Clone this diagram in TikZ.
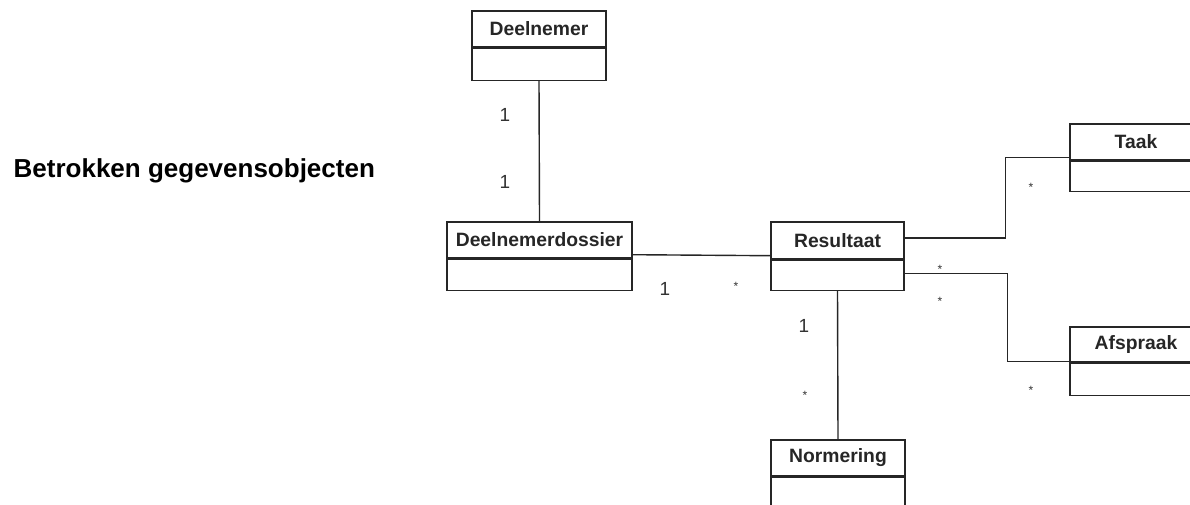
\documentclass[tikz,border=0pt]{standalone}
\usepackage{fontspec}
\setmainfont{Liberation Sans}
\begin{document}
\begin{tikzpicture}[x=1pt,y=-1pt,
  line width=1.4pt, draw=black!85,
  classhead/.style={draw=black!85, line width=1.4pt, rectangle, inner sep=0pt,
    font=\fontsize{19.3}{21}\selectfont\bfseries, text=black!85},
  classbody/.style={draw=black!85, line width=1.4pt, rectangle, inner sep=0pt, anchor=north},
  conn/.style={draw=black!85, line width=1.4pt},
  mult/.style={font=\fontsize{19}{21}\selectfont, text=black!80, inner sep=0pt},
  star/.style={font=\fontsize{12}{14}\selectfont, text=black!80, inner sep=0pt}
]
\useasboundingbox (0,0) rectangle (1190,505);
\clip (0,0) rectangle (1190,505);
\fill[white] (0,0) rectangle (1190,505);

\node[anchor=base west, font=\fontsize{26}{30}\selectfont\bfseries, inner sep=0pt] (title) at (13,178) {Betrokken gegevensobjecten};

% Deelnemer
\node[classhead, minimum width=134, minimum height=36] (deelH) at (539,29) {Deelnemer};
\node[classbody, minimum width=134, minimum height=32] (deelB) at (deelH.south) {};
% Deelnemerdossier
\node[classhead, minimum width=185, minimum height=36] (dosH) at (539.5,240) {Deelnemerdossier};
\node[classbody, minimum width=185, minimum height=31] (dosB) at (dosH.south) {};
% Resultaat
\node[classhead, minimum width=133, minimum height=37] (resH) at (837.5,240.5) {Resultaat};
\node[classbody, minimum width=133, minimum height=30] (resB) at (resH.south) {};
% Taak
\node[classhead, minimum width=132, minimum height=36] (taakH) at (1136,142) {Taak};
\node[classbody, minimum width=132, minimum height=30] (taakB) at (taakH.south) {};
% Afspraak
\node[classhead, minimum width=132, minimum height=35] (afsH) at (1136,344.5) {Afspraak};
\node[classbody, minimum width=132, minimum height=32] (afsB) at (afsH.south) {};
% Normering
\node[classhead, minimum width=134, minimum height=36] (normH) at (838,458) {Normering};
\node[classbody, minimum width=134, minimum height=40] (normB) at (normH.south) {};

% connectors
\draw[conn] (deelB.south) -- (dosH.north);
\draw[conn] ([yshift=4pt]dosH.south east) -- ([yshift=4pt]resH.south west);
\draw[conn] ([yshift=2.5pt]resH.east) -- ++(101,0) |- ([yshift=3pt]taakH.south west);
\draw[conn] ([yshift=2pt]resB.east) -- ++(103,0) |- ([yshift=1pt]afsH.south west);
\draw[conn] (resB.south) -- (normH.north);

% multiplicities
\node[mult] (m1) at (505,115) {1};
\node[mult] (m2) at (505,182) {1};
\node[mult] (m3) at (665,289) {1};
\node[star] (s1) at (736,286.5) {*};
\node[star] (s2) at (940,269.5) {*};
\node[star] (s3) at (940,301.5) {*};
\node[mult] (m4) at (804,326) {1};
\node[star] (s4) at (805,395.5) {*};
\node[star] (s5) at (1031,187.5) {*};
\node[star] (s6) at (1031,390.5) {*};
\end{tikzpicture}
\end{document}
